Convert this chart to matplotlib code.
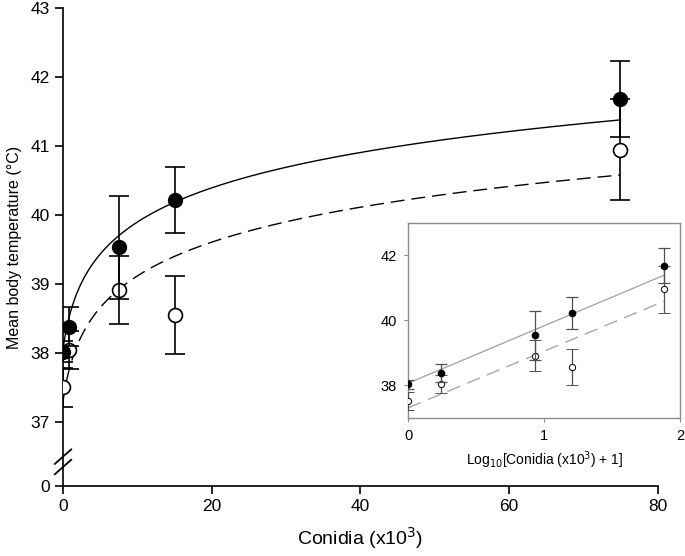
import matplotlib
matplotlib.use("Agg")
import matplotlib.pyplot as plt
import numpy as np

plt.rcParams["font.family"] = ["Liberation Sans", "DejaVu Sans"]

# conidia dose (x10^3)
conidia = [0, 0.75, 7.5, 15, 75]
# mean body temperature, filled and open symbols
temp_filled = [38.02, 38.38, 39.53, 40.22, 41.68]
err_filled = [0.15, 0.28, 0.75, 0.48, 0.55]
temp_open = [37.50, 38.04, 38.91, 38.55, 40.95]
err_open = [0.28, 0.28, 0.49, 0.56, 0.73]
# fitted log-linear regressions: T = a + b*log10(x+1)
fit_filled = (38.06, 1.766)
fit_open = (37.30, 1.745)

Y_ZERO = 36.07  # where "0" sits on the broken y axis

x = np.array(conidia)
lx = np.log10(x + 1)
xs = np.linspace(0, 75, 400)
lxs = np.log10(xs + 1)

fig = plt.figure(figsize=(6.85, 5.56), dpi=100)
ax = fig.add_axes([0.092, 0.126, 0.868, 0.859])

ax.plot(xs, fit_filled[0] + fit_filled[1] * lxs, color="black", lw=1.0)
ax.plot(xs, fit_open[0] + fit_open[1] * lxs, color="black", lw=1.0, dashes=(10, 5))
ax.errorbar(x, temp_open, yerr=err_open, fmt="o", ms=10, mfc="white", mec="black",
            mew=1.2, ecolor="black", elinewidth=1.2, capsize=7, capthick=1.2, zorder=3)
ax.errorbar(x, temp_filled, yerr=err_filled, fmt="o", ms=10, mfc="black", mec="black",
            ecolor="black", elinewidth=1.2, capsize=7, capthick=1.2, zorder=4)

ax.set_xlim(0, 80)
ax.set_ylim(Y_ZERO, 43)
ax.set_xticks([0, 20, 40, 60, 80])
ax.set_yticks([Y_ZERO, 37, 38, 39, 40, 41, 42, 43])
ax.set_yticklabels(["0", "37", "38", "39", "40", "41", "42", "43"])
ax.spines["top"].set_visible(False)
ax.spines["right"].set_visible(False)
for s in ("left", "bottom"):
    ax.spines[s].set_linewidth(1.2)
ax.tick_params(direction="out", length=6, width=1.2, labelsize=12.5)
ax.set_xlabel("Conidia (x10$^3$)", fontsize=14, labelpad=8)
ax.set_ylabel("Mean body temperature (°C)", fontsize=11.5, labelpad=6)

# axis break marks
yb = 36.42
for off in (-0.075, 0.075):
    ax.plot([-1.1, 1.1], [yb + off - 0.105, yb + off + 0.105], color="black", lw=1.3,
            clip_on=False, zorder=5)

# inset: log-transformed dose
ins = fig.add_axes([0.596, 0.249, 0.397, 0.3505])
gray = "#8c8c8c"
lfit = np.linspace(0, lx[-1], 50)
ins.plot(lfit, fit_filled[0] + fit_filled[1] * lfit, color="#a0a0a0", lw=0.9)
ins.plot(lfit, fit_open[0] + fit_open[1] * lfit, color="#a0a0a0", lw=0.9, dashes=(11, 6))
ins.errorbar(lx, temp_open, yerr=err_open, fmt="o", ms=4.5, mfc="white", mec="black",
             mew=0.7, ecolor="#505050", elinewidth=0.9, capsize=4, capthick=0.9, zorder=3)
ins.errorbar(lx, temp_filled, yerr=err_filled, fmt="o", ms=4.5, mfc="black", mec="black",
             ecolor="#505050", elinewidth=0.9, capsize=4, capthick=0.9, zorder=4)
ins.set_xlim(0, 2)
ins.set_ylim(37, 43)
ins.set_xticks([0, 1, 2])
ins.set_yticks([38, 40, 42])
for s in ins.spines.values():
    s.set_color(gray)
    s.set_linewidth(1.0)
ins.tick_params(direction="out", length=3, width=0.8, color=gray, labelsize=10.5, pad=5)
ins.set_xlabel("Log$_{10}$[Conidia (x10$^3$) + 1]", fontsize=10, labelpad=5)

fig.savefig("out.png", dpi=100)
